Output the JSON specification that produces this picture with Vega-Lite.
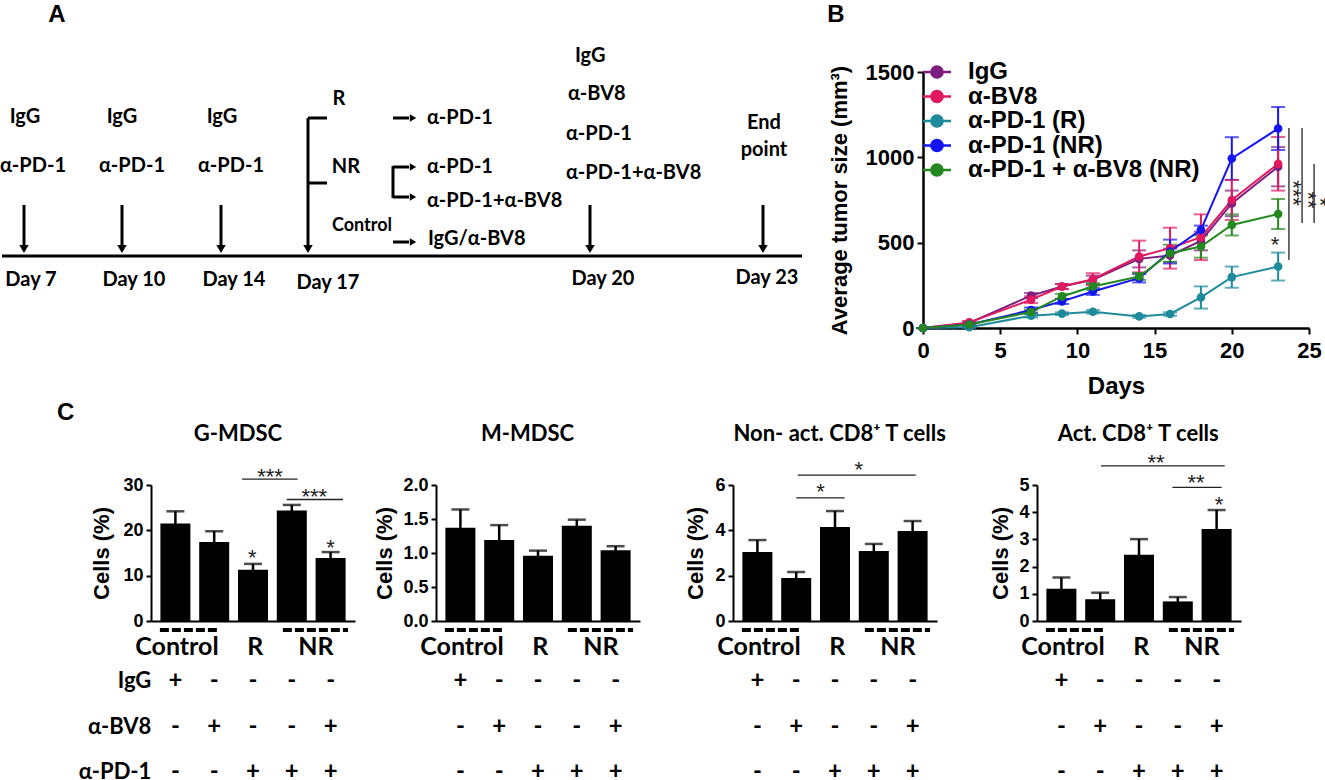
{
  "$schema": "https://vega.github.io/schema/vega-lite/v6.json",
  "padding": {"top": 3, "left": 0, "right": 0, "bottom": 0},
  "background": "white",
  "config": {
    "view": {"stroke": null},
    "axis": {"grid": false, "domainColor": "black", "tickColor": "black", "labelColor": "black", "titleColor": "black", "labelFont": "Liberation Sans", "titleFont": "Liberation Sans", "labelFontWeight": "bold", "titleFontWeight": "bold"},
    "text": {"color": "black", "font": "Lato", "fontWeight": "bold"}
  },
  "datasets": {
    "a_lines": [
      {"x1": 2, "x2": 802, "y1": 256, "y2": 256},
      {"x1": 24, "x2": 24, "y1": 205, "y2": 247},
      {"x1": 122, "x2": 122, "y1": 205, "y2": 247},
      {"x1": 221, "x2": 221, "y1": 205, "y2": 247},
      {"x1": 308, "x2": 308, "y1": 118, "y2": 247},
      {"x1": 590, "x2": 590, "y1": 205, "y2": 247},
      {"x1": 763, "x2": 763, "y1": 205, "y2": 247},
      {"x1": 308, "x2": 327, "y1": 118, "y2": 118},
      {"x1": 308, "x2": 327, "y1": 183, "y2": 183},
      {"x1": 393, "x2": 409, "y1": 118, "y2": 118},
      {"x1": 393, "x2": 409, "y1": 167, "y2": 167},
      {"x1": 393, "x2": 409, "y1": 197, "y2": 197},
      {"x1": 393, "x2": 393, "y1": 166, "y2": 198},
      {"x1": 393, "x2": 409, "y1": 242, "y2": 242}
    ],
    "a_heads_down": [
      {"x": 24, "y": 249}, {"x": 122, "y": 249}, {"x": 221, "y": 249},
      {"x": 308, "y": 249}, {"x": 590, "y": 249}, {"x": 763, "y": 249}
    ],
    "a_heads_right": [
      {"x": 413, "y": 118}, {"x": 413, "y": 167}, {"x": 413, "y": 197}, {"x": 413, "y": 242}
    ],
    "a_text_c": [
      {"t": "IgG", "x": 25, "y": 117}, {"t": "IgG", "x": 122, "y": 117}, {"t": "IgG", "x": 222, "y": 117},
      {"t": "α-PD-1", "x": 33, "y": 166}, {"t": "α-PD-1", "x": 132, "y": 166}, {"t": "α-PD-1", "x": 231, "y": 166},
      {"t": "Day 7", "x": 31, "y": 280}, {"t": "Day 10", "x": 134, "y": 280}, {"t": "Day 14", "x": 234, "y": 280},
      {"t": "Day 17", "x": 328, "y": 283}, {"t": "Day 20", "x": 603, "y": 279}, {"t": "Day 23", "x": 767, "y": 278},
      {"t": "R", "x": 339, "y": 99}, {"t": "NR", "x": 346, "y": 167},
      {"t": "End", "x": 764, "y": 123}, {"t": "point", "x": 764, "y": 150}
    ],
    "a_text_l": [
      {"t": "α-PD-1", "x": 427, "y": 118}, {"t": "α-PD-1", "x": 427, "y": 167},
      {"t": "α-PD-1+α-BV8", "x": 427, "y": 201}, {"t": "IgG/α-BV8", "x": 428, "y": 239},
      {"t": "IgG", "x": 575, "y": 56}, {"t": "α-BV8", "x": 568, "y": 94},
      {"t": "α-PD-1", "x": 566, "y": 134}, {"t": "α-PD-1+α-BV8", "x": 566, "y": 173}
    ],
    "a_text_small": [{"t": "Control", "x": 362, "y": 226}],
    "a_letters": [{"t": "A", "x": 57, "y": 15}, {"t": "B", "x": 836, "y": 15}],
    "tumor": [
      {"series": "IgG", "day": 0, "size": 0, "err": 0},
      {"series": "IgG", "day": 3, "size": 30, "err": 8},
      {"series": "IgG", "day": 7, "size": 190, "err": 15},
      {"series": "IgG", "day": 9, "size": 243, "err": 15},
      {"series": "IgG", "day": 11, "size": 282, "err": 25},
      {"series": "IgG", "day": 14, "size": 405, "err": 50},
      {"series": "IgG", "day": 16, "size": 425, "err": 40},
      {"series": "IgG", "day": 18, "size": 510, "err": 55},
      {"series": "IgG", "day": 20, "size": 730, "err": 75},
      {"series": "IgG", "day": 23, "size": 945, "err": 115},
      {"series": "α-BV8", "day": 0, "size": 0, "err": 0},
      {"series": "α-BV8", "day": 3, "size": 33, "err": 8},
      {"series": "α-BV8", "day": 7, "size": 166, "err": 20},
      {"series": "α-BV8", "day": 9, "size": 243, "err": 15},
      {"series": "α-BV8", "day": 11, "size": 286, "err": 35},
      {"series": "α-BV8", "day": 14, "size": 419, "err": 93},
      {"series": "α-BV8", "day": 16, "size": 468, "err": 120},
      {"series": "α-BV8", "day": 18, "size": 532, "err": 134},
      {"series": "α-BV8", "day": 20, "size": 750, "err": 117},
      {"series": "α-BV8", "day": 23, "size": 962, "err": 157},
      {"series": "α-PD-1 (R)", "day": 0, "size": 0, "err": 0},
      {"series": "α-PD-1 (R)", "day": 3, "size": 5, "err": 5},
      {"series": "α-PD-1 (R)", "day": 7, "size": 72, "err": 10},
      {"series": "α-PD-1 (R)", "day": 9, "size": 84, "err": 8},
      {"series": "α-PD-1 (R)", "day": 11, "size": 95, "err": 10},
      {"series": "α-PD-1 (R)", "day": 14, "size": 68, "err": 8},
      {"series": "α-PD-1 (R)", "day": 16, "size": 82, "err": 10},
      {"series": "α-PD-1 (R)", "day": 18, "size": 179, "err": 65},
      {"series": "α-PD-1 (R)", "day": 20, "size": 298, "err": 62},
      {"series": "α-PD-1 (R)", "day": 23, "size": 360, "err": 82},
      {"series": "α-PD-1 (NR)", "day": 0, "size": 0, "err": 0},
      {"series": "α-PD-1 (NR)", "day": 3, "size": 20, "err": 8},
      {"series": "α-PD-1 (NR)", "day": 7, "size": 105, "err": 15},
      {"series": "α-PD-1 (NR)", "day": 9, "size": 156, "err": 15},
      {"series": "α-PD-1 (NR)", "day": 11, "size": 214, "err": 20},
      {"series": "α-PD-1 (NR)", "day": 14, "size": 292, "err": 25},
      {"series": "α-PD-1 (NR)", "day": 16, "size": 448, "err": 70},
      {"series": "α-PD-1 (NR)", "day": 18, "size": 575, "err": 25},
      {"series": "α-PD-1 (NR)", "day": 20, "size": 993, "err": 125},
      {"series": "α-PD-1 (NR)", "day": 23, "size": 1169, "err": 126},
      {"series": "α-PD-1 + α-BV8 (NR)", "day": 0, "size": 0, "err": 0},
      {"series": "α-PD-1 + α-BV8 (NR)", "day": 3, "size": 20, "err": 8},
      {"series": "α-PD-1 + α-BV8 (NR)", "day": 7, "size": 94, "err": 12},
      {"series": "α-PD-1 + α-BV8 (NR)", "day": 9, "size": 185, "err": 15},
      {"series": "α-PD-1 + α-BV8 (NR)", "day": 11, "size": 243, "err": 20},
      {"series": "α-PD-1 + α-BV8 (NR)", "day": 14, "size": 302, "err": 20},
      {"series": "α-PD-1 + α-BV8 (NR)", "day": 16, "size": 438, "err": 50},
      {"series": "α-PD-1 + α-BV8 (NR)", "day": 18, "size": 477, "err": 65},
      {"series": "α-PD-1 + α-BV8 (NR)", "day": 20, "size": 604, "err": 62},
      {"series": "α-PD-1 + α-BV8 (NR)", "day": 23, "size": 668, "err": 88}
    ],
    "b_sig": [
      {"day": 23.7, "size": 398, "hi": 1172},
      {"day": 24.55, "size": 615, "hi": 1172},
      {"day": 25.33, "size": 615, "hi": 961}
    ],
    "b_star_rot": [
      {"day": 23.97, "size": 791, "t": "***"},
      {"day": 24.94, "size": 750, "t": "**"},
      {"day": 25.7, "size": 738, "t": "*"}
    ],
    "b_star": [{"day": 22.8, "size": 515, "t": "*"}],
    "c1": [
      {"pos": 1, "value": 21.5, "err": 2.7}, {"pos": 2, "value": 17.4, "err": 2.4},
      {"pos": 3, "value": 11.3, "err": 1.3}, {"pos": 4, "value": 24.4, "err": 1.2},
      {"pos": 5, "value": 13.9, "err": 1.3}
    ],
    "c2": [
      {"pos": 1, "value": 1.37, "err": 0.27}, {"pos": 2, "value": 1.19, "err": 0.22},
      {"pos": 3, "value": 0.96, "err": 0.075}, {"pos": 4, "value": 1.40, "err": 0.09},
      {"pos": 5, "value": 1.04, "err": 0.06}
    ],
    "c3": [
      {"pos": 1, "value": 3.04, "err": 0.53}, {"pos": 2, "value": 1.9, "err": 0.26},
      {"pos": 3, "value": 4.15, "err": 0.7}, {"pos": 4, "value": 3.09, "err": 0.31},
      {"pos": 5, "value": 3.97, "err": 0.44}
    ],
    "c4": [
      {"pos": 1, "value": 1.19, "err": 0.41}, {"pos": 2, "value": 0.80, "err": 0.24},
      {"pos": 3, "value": 2.44, "err": 0.57}, {"pos": 4, "value": 0.72, "err": 0.16},
      {"pos": 5, "value": 3.38, "err": 0.70}
    ],
    "c1_sig": [{"pos": 2.72, "x2": 4.15, "y": 31.3}, {"pos": 3.87, "x2": 5.32, "y": 26.8}],
    "c1_star": [
      {"pos": 3.44, "y": 32.9, "t": "***"}, {"pos": 4.58, "y": 28.5, "t": "***"},
      {"pos": 2.98, "y": 15.1, "t": "*"}, {"pos": 5.0, "y": 17.1, "t": "*"}
    ],
    "c3_sig": [{"pos": 2.0, "x2": 3.25, "y": 5.43}, {"pos": 2.04, "x2": 5.08, "y": 6.44}],
    "c3_star": [{"pos": 2.63, "y": 5.9, "t": "*"}, {"pos": 3.61, "y": 6.88, "t": "*"}],
    "c4_sig": [{"pos": 2.02, "x2": 5.21, "y": 5.70}, {"pos": 3.86, "x2": 5.13, "y": 4.91}],
    "c4_star": [
      {"pos": 3.44, "y": 5.98, "t": "**"}, {"pos": 4.47, "y": 5.27, "t": "**"}, {"pos": 5.06, "y": 4.45, "t": "*"}
    ],
    "groups": [{"t": "Control", "pos": 1.04}, {"t": "R", "pos": 3.06}, {"t": "NR", "pos": 4.62}],
    "dashes": [{"pos": 0.6, "x2": 2.07}, {"pos": 3.77, "x2": 5.45}],
    "table": [
      {"agent": "IgG", "pos": 1, "sign": "+"}, {"agent": "IgG", "pos": 2, "sign": "-"},
      {"agent": "IgG", "pos": 3, "sign": "-"}, {"agent": "IgG", "pos": 4, "sign": "-"},
      {"agent": "IgG", "pos": 5, "sign": "-"},
      {"agent": "α-BV8", "pos": 1, "sign": "-"}, {"agent": "α-BV8", "pos": 2, "sign": "+"},
      {"agent": "α-BV8", "pos": 3, "sign": "-"}, {"agent": "α-BV8", "pos": 4, "sign": "-"},
      {"agent": "α-BV8", "pos": 5, "sign": "+"},
      {"agent": "α-PD-1", "pos": 1, "sign": "-"}, {"agent": "α-PD-1", "pos": 2, "sign": "-"},
      {"agent": "α-PD-1", "pos": 3, "sign": "+"}, {"agent": "α-PD-1", "pos": 4, "sign": "+"},
      {"agent": "α-PD-1", "pos": 5, "sign": "+"}
    ],
    "agents": [{"agent": "IgG", "pos": 0.38}, {"agent": "α-BV8", "pos": 0.38}, {"agent": "α-PD-1", "pos": 0.38}],
    "empty": []
  },
  "spacing": 2,
  "bounds": "full",
  "vconcat": [
    {
      "spacing": 0,
      "bounds": "flush",
      "hconcat": [
        {
          "width": 923, "height": 256,
          "layer": [
            {"data": {"name": "a_lines"}, "mark": {"type": "rule", "strokeWidth": 3, "color": "black"},
             "encoding": {
               "x": {"field": "x1", "type": "quantitative", "scale": {"domain": [0, 923], "nice": false, "zero": false}, "axis": null},
               "x2": {"field": "x2"},
               "y": {"field": "y1", "type": "quantitative", "scale": {"domain": [72, 328], "nice": false, "zero": false, "reverse": true}, "axis": null},
               "y2": {"field": "y2"}}},
            {"data": {"name": "a_heads_down"}, "mark": {"type": "point", "shape": "triangle-down", "filled": true, "size": 90, "color": "black", "opacity": 1},
             "encoding": {
               "x": {"field": "x", "type": "quantitative", "scale": {"domain": [0, 923], "nice": false, "zero": false}, "axis": null},
               "y": {"field": "y", "type": "quantitative", "scale": {"domain": [72, 328], "nice": false, "zero": false, "reverse": true}, "axis": null}}},
            {"data": {"name": "a_heads_right"}, "mark": {"type": "point", "shape": "triangle-right", "filled": true, "size": 55, "color": "black", "opacity": 1},
             "encoding": {
               "x": {"field": "x", "type": "quantitative", "scale": {"domain": [0, 923], "nice": false, "zero": false}, "axis": null},
               "y": {"field": "y", "type": "quantitative", "scale": {"domain": [72, 328], "nice": false, "zero": false, "reverse": true}, "axis": null}}},
            {"data": {"name": "a_text_c"}, "mark": {"type": "text", "fontSize": 20, "align": "center", "baseline": "middle"},
             "encoding": {
               "x": {"field": "x", "type": "quantitative", "scale": {"domain": [0, 923], "nice": false, "zero": false}, "axis": null},
               "y": {"field": "y", "type": "quantitative", "scale": {"domain": [72, 328], "nice": false, "zero": false, "reverse": true}, "axis": null},
               "text": {"field": "t"}}},
            {"data": {"name": "a_text_l"}, "mark": {"type": "text", "fontSize": 20, "align": "left", "baseline": "middle"},
             "encoding": {
               "x": {"field": "x", "type": "quantitative", "scale": {"domain": [0, 923], "nice": false, "zero": false}, "axis": null},
               "y": {"field": "y", "type": "quantitative", "scale": {"domain": [72, 328], "nice": false, "zero": false, "reverse": true}, "axis": null},
               "text": {"field": "t"}}},
            {"data": {"name": "a_text_small"}, "mark": {"type": "text", "fontSize": 18, "align": "center", "baseline": "middle"},
             "encoding": {
               "x": {"field": "x", "type": "quantitative", "scale": {"domain": [0, 923], "nice": false, "zero": false}, "axis": null},
               "y": {"field": "y", "type": "quantitative", "scale": {"domain": [72, 328], "nice": false, "zero": false, "reverse": true}, "axis": null},
               "text": {"field": "t"}}},
            {"data": {"name": "a_letters"}, "mark": {"type": "text", "font": "Liberation Sans", "fontSize": 24, "align": "center", "baseline": "middle"},
             "encoding": {
               "x": {"field": "x", "type": "quantitative", "scale": {"domain": [0, 923], "nice": false, "zero": false}, "axis": null},
               "y": {"field": "y", "type": "quantitative", "scale": {"domain": [72, 328], "nice": false, "zero": false, "reverse": true}, "axis": null},
               "text": {"field": "t"}}}
          ]
        },
        {
          "width": 386, "height": 256,
          "encoding": {
            "x": {"field": "day", "type": "quantitative", "scale": {"domain": [0, 25], "nice": false},
                  "axis": {"values": [0, 5, 10, 15, 20, 25], "title": "Days", "labelFontSize": 22, "titleFontSize": 24, "tickSize": 6, "tickWidth": 2, "domainWidth": 2.5, "labelPadding": 6, "titlePadding": 13, "labelFlush": false, "labelOverlap": false}},
            "y": {"field": "size", "type": "quantitative", "scale": {"domain": [0, 1500], "nice": false},
                  "axis": {"values": [0, 500, 1000, 1500], "format": "d", "title": "Average tumor size (mm³)", "labelFontSize": 22, "titleFontSize": 22, "tickSize": 6, "tickWidth": 2, "domainWidth": 2.5, "labelPadding": 3, "titlePadding": 14, "labelOverlap": false}}
          },
          "layer": [
            {"data": {"name": "b_sig"}, "mark": {"type": "rule", "strokeWidth": 1.3, "color": "#222"},
             "encoding": {"y2": {"field": "hi"}}},
            {"data": {"name": "tumor"}, "mark": {"type": "errorbar", "thickness": 2, "ticks": {"size": 14, "thickness": 2}},
             "encoding": {
               "yError": {"field": "err"},
               "color": {"field": "series", "type": "nominal", "scale": {"domain": ["IgG", "α-BV8", "α-PD-1 (R)", "α-PD-1 (NR)", "α-PD-1 + α-BV8 (NR)"], "range": ["#7d1d80", "#e0195f", "#1f8a9c", "#1515f2", "#23891f"]},
                         "legend": {"orient": "none", "legendX": 925, "legendY": -12, "padding": 0, "title": null, "symbolType": "M-2,0H2M-0.8,0A0.8,0.8,0,1,1,0.8,0A0.8,0.8,0,1,1,-0.8,0", "symbolSize": 196, "symbolStrokeWidth": 2.5, "symbolOpacity": 1, "labelFont": "Liberation Sans", "labelFontSize": 24, "labelFontWeight": "bold", "labelColor": "black", "labelOffset": 19, "rowPadding": 0.5, "labelLimit": 400}}}},
            {"data": {"name": "tumor"}, "mark": {"type": "line", "strokeWidth": 2},
             "encoding": {
               "color": {"field": "series", "type": "nominal", "scale": {"domain": ["IgG", "α-BV8", "α-PD-1 (R)", "α-PD-1 (NR)", "α-PD-1 + α-BV8 (NR)"], "range": ["#7d1d80", "#e0195f", "#1f8a9c", "#1515f2", "#23891f"]},
                         "legend": {"orient": "none", "legendX": 925, "legendY": -12, "padding": 0, "title": null, "symbolType": "M-2,0H2M-0.8,0A0.8,0.8,0,1,1,0.8,0A0.8,0.8,0,1,1,-0.8,0", "symbolSize": 196, "symbolStrokeWidth": 2.5, "symbolOpacity": 1, "labelFont": "Liberation Sans", "labelFontSize": 24, "labelFontWeight": "bold", "labelColor": "black", "labelOffset": 19, "rowPadding": 0.5, "labelLimit": 400}}}},
            {"data": {"name": "tumor"}, "mark": {"type": "point", "filled": true, "size": 75, "opacity": 1},
             "encoding": {
               "color": {"field": "series", "type": "nominal", "scale": {"domain": ["IgG", "α-BV8", "α-PD-1 (R)", "α-PD-1 (NR)", "α-PD-1 + α-BV8 (NR)"], "range": ["#7d1d80", "#e0195f", "#1f8a9c", "#1515f2", "#23891f"]},
                         "legend": {"orient": "none", "legendX": 925, "legendY": -12, "padding": 0, "title": null, "symbolType": "M-2,0H2M-0.8,0A0.8,0.8,0,1,1,0.8,0A0.8,0.8,0,1,1,-0.8,0", "symbolSize": 196, "symbolStrokeWidth": 2.5, "symbolOpacity": 1, "labelFont": "Liberation Sans", "labelFontSize": 24, "labelFontWeight": "bold", "labelColor": "black", "labelOffset": 19, "rowPadding": 0.5, "labelLimit": 400}}}},
            {"data": {"name": "b_star_rot"}, "mark": {"type": "text", "font": "Liberation Sans", "fontWeight": "normal", "fontSize": 22, "angle": 90, "align": "center", "baseline": "middle", "color": "#222"},
             "encoding": {"text": {"field": "t"}}},
            {"data": {"name": "b_star"}, "mark": {"type": "text", "font": "Liberation Sans", "fontWeight": "normal", "fontSize": 22, "align": "center", "baseline": "middle", "dy": 5, "color": "#222"},
             "encoding": {"text": {"field": "t"}}}
          ]
        }
      ]
    },
    {
      "spacing": 0,
      "bounds": "flush",
      "hconcat": [
        {"width": 151, "height": 136, "data": {"name": "empty"}, "mark": "point"},
        {
          "width": 204, "height": 136,
          "encoding": {
            "x": {"field": "pos", "type": "quantitative", "scale": {"domain": [0.5, 5.5], "nice": false, "zero": false}, "axis": {"domain": true, "domainWidth": 2, "ticks": false, "labels": false, "title": null}}
          },
          "resolve": {"scale": {"y": "independent"}},
          "layer": [
            {"data": {"name": "c1"}, "mark": {"type": "bar", "size": 30, "color": "black"},
             "encoding": {
               "y": {"field": "value", "type": "quantitative", "scale": {"domain": [0, 30], "nice": false}, "axis": {"values": [0, 10, 20, 30], "title": "Cells (%)", "labelFontSize": 18, "titleFontSize": 22, "tickSize": 5, "tickWidth": 2, "domainWidth": 2, "labelPadding": 3, "titlePadding": 9, "labelOverlap": false}}}},
            {"data": {"name": "c1"}, "mark": {"type": "errorbar", "color": "black", "thickness": 2.5, "ticks": {"size": 18, "thickness": 2.5, "color": "black"}},
             "encoding": {
               "y": {"field": "value", "type": "quantitative", "scale": {"domain": [0, 30], "nice": false}, "axis": null},
               "yError": {"field": "err"}}},
            {"data": {"name": "c1_sig"}, "mark": {"type": "rule", "strokeWidth": 1.3, "color": "#222"},
             "encoding": {
               "x2": {"field": "x2"},
               "y": {"field": "y", "type": "quantitative", "scale": {"domain": [0, 30], "nice": false}, "axis": null}}},
            {"data": {"name": "c1_star"}, "mark": {"type": "text", "font": "Liberation Sans", "fontWeight": "normal", "fontSize": 22, "baseline": "middle", "dy": 5, "color": "#222"},
             "encoding": {
               "y": {"field": "y", "type": "quantitative", "scale": {"domain": [0, 30], "nice": false}, "axis": null},
               "text": {"field": "t"}}},
            {"data": {"name": "groups"}, "mark": {"type": "text", "fontSize": 25, "baseline": "middle", "dy": 26},
             "encoding": {
               "y": {"datum": 0, "type": "quantitative", "scale": {"domain": [0, 30], "nice": false}, "axis": null},
               "text": {"field": "t"}}},
            {"data": {"name": "dashes"}, "mark": {"type": "rule", "strokeWidth": 4, "strokeDash": [9, 3], "color": "black"},
             "encoding": {
               "x2": {"field": "x2"},
               "y": {"datum": -1.99, "type": "quantitative", "scale": {"domain": [0, 30], "nice": false}, "axis": null}}},
            {"data": {"name": "table"}, "mark": {"type": "text", "fontSize": 24, "baseline": "middle"},
             "encoding": {
               "y": {"field": "agent", "type": "nominal", "scale": {"type": "point", "domain": ["IgG", "α-BV8", "α-PD-1"], "range": [196, 287], "padding": 0}, "axis": null},
               "text": {"field": "sign"}}},
            {"data": {"name": "agents"}, "mark": {"type": "text", "fontSize": 22, "align": "right", "baseline": "middle"},
             "encoding": {
               "y": {"field": "agent", "type": "nominal", "scale": {"type": "point", "domain": ["IgG", "α-BV8", "α-PD-1"], "range": [196, 287], "padding": 0}, "axis": null},
               "text": {"field": "agent"}}},
            {"data": {"values": [{"t": "G-MDSC", "pos": 2.61}]}, "mark": {"type": "text", "fontSize": 22, "baseline": "middle"},
             "encoding": {
               "y": {"datum": 41.25, "type": "quantitative", "scale": {"domain": [0, 30], "nice": false}, "axis": null},
               "text": {"field": "t"}}},
            {"data": {"values": [{"t": "C", "pos": -1.83}]}, "mark": {"type": "text", "font": "Liberation Sans", "fontSize": 24, "baseline": "middle"},
             "encoding": {
               "y": {"datum": 45.9, "type": "quantitative", "scale": {"domain": [0, 30], "nice": false}, "axis": null},
               "text": {"field": "t"}}}
          ]
        },
        {"width": 81, "height": 136, "data": {"name": "empty"}, "mark": "point"},
        {
          "width": 204, "height": 136,
          "encoding": {
            "x": {"field": "pos", "type": "quantitative", "scale": {"domain": [0.5, 5.5], "nice": false, "zero": false}, "axis": {"domain": true, "domainWidth": 2, "ticks": false, "labels": false, "title": null}}
          },
          "resolve": {"scale": {"y": "independent"}},
          "layer": [
            {"data": {"name": "c2"}, "mark": {"type": "bar", "size": 30, "color": "black"},
             "encoding": {
               "y": {"field": "value", "type": "quantitative", "scale": {"domain": [0, 2], "nice": false}, "axis": {"values": [0, 0.5, 1, 1.5, 2], "format": ".1f", "title": "Cells (%)", "labelFontSize": 18, "titleFontSize": 22, "tickSize": 5, "tickWidth": 2, "domainWidth": 2, "labelPadding": 3, "titlePadding": 6, "labelOverlap": false}}}},
            {"data": {"name": "c2"}, "mark": {"type": "errorbar", "color": "black", "thickness": 2.5, "ticks": {"size": 18, "thickness": 2.5, "color": "black"}},
             "encoding": {
               "y": {"field": "value", "type": "quantitative", "scale": {"domain": [0, 2], "nice": false}, "axis": null},
               "yError": {"field": "err"}}},
            {"data": {"name": "groups"}, "mark": {"type": "text", "fontSize": 25, "baseline": "middle", "dy": 26},
             "encoding": {
               "y": {"datum": 0, "type": "quantitative", "scale": {"domain": [0, 2], "nice": false}, "axis": null},
               "text": {"field": "t"}}},
            {"data": {"name": "dashes"}, "mark": {"type": "rule", "strokeWidth": 4, "strokeDash": [9, 3], "color": "black"},
             "encoding": {
               "x2": {"field": "x2"},
               "y": {"datum": -0.132, "type": "quantitative", "scale": {"domain": [0, 2], "nice": false}, "axis": null}}},
            {"data": {"name": "table"}, "mark": {"type": "text", "fontSize": 24, "baseline": "middle"},
             "encoding": {
               "y": {"field": "agent", "type": "nominal", "scale": {"type": "point", "domain": ["IgG", "α-BV8", "α-PD-1"], "range": [196, 287], "padding": 0}, "axis": null},
               "text": {"field": "sign"}}},
            {"data": {"values": [{"t": "M-MDSC", "pos": 2.73}]}, "mark": {"type": "text", "fontSize": 22, "baseline": "middle"},
             "encoding": {
               "y": {"datum": 2.75, "type": "quantitative", "scale": {"domain": [0, 2], "nice": false}, "axis": null},
               "text": {"field": "t"}}}
          ]
        },
        {"width": 93, "height": 136, "data": {"name": "empty"}, "mark": "point"},
        {
          "width": 204, "height": 136,
          "encoding": {
            "x": {"field": "pos", "type": "quantitative", "scale": {"domain": [0.5, 5.5], "nice": false, "zero": false}, "axis": {"domain": true, "domainWidth": 2, "ticks": false, "labels": false, "title": null}}
          },
          "resolve": {"scale": {"y": "independent"}},
          "layer": [
            {"data": {"name": "c3"}, "mark": {"type": "bar", "size": 30, "color": "black"},
             "encoding": {
               "y": {"field": "value", "type": "quantitative", "scale": {"domain": [0, 6], "nice": false}, "axis": {"values": [0, 2, 4, 6], "title": "Cells (%)", "labelFontSize": 18, "titleFontSize": 22, "tickSize": 5, "tickWidth": 2, "domainWidth": 2, "labelPadding": 3, "titlePadding": 7, "labelOverlap": false}}}},
            {"data": {"name": "c3"}, "mark": {"type": "errorbar", "color": "black", "thickness": 2.5, "ticks": {"size": 18, "thickness": 2.5, "color": "black"}},
             "encoding": {
               "y": {"field": "value", "type": "quantitative", "scale": {"domain": [0, 6], "nice": false}, "axis": null},
               "yError": {"field": "err"}}},
            {"data": {"name": "c3_sig"}, "mark": {"type": "rule", "strokeWidth": 1.3, "color": "#222"},
             "encoding": {
               "x2": {"field": "x2"},
               "y": {"field": "y", "type": "quantitative", "scale": {"domain": [0, 6], "nice": false}, "axis": null}}},
            {"data": {"name": "c3_star"}, "mark": {"type": "text", "font": "Liberation Sans", "fontWeight": "normal", "fontSize": 22, "baseline": "middle", "dy": 5, "color": "#222"},
             "encoding": {
               "y": {"field": "y", "type": "quantitative", "scale": {"domain": [0, 6], "nice": false}, "axis": null},
               "text": {"field": "t"}}},
            {"data": {"name": "groups"}, "mark": {"type": "text", "fontSize": 25, "baseline": "middle", "dy": 26},
             "encoding": {
               "y": {"datum": 0, "type": "quantitative", "scale": {"domain": [0, 6], "nice": false}, "axis": null},
               "text": {"field": "t"}}},
            {"data": {"name": "dashes"}, "mark": {"type": "rule", "strokeWidth": 4, "strokeDash": [9, 3], "color": "black"},
             "encoding": {
               "x2": {"field": "x2"},
               "y": {"datum": -0.397, "type": "quantitative", "scale": {"domain": [0, 6], "nice": false}, "axis": null}}},
            {"data": {"name": "table"}, "mark": {"type": "text", "fontSize": 24, "baseline": "middle"},
             "encoding": {
               "y": {"field": "agent", "type": "nominal", "scale": {"type": "point", "domain": ["IgG", "α-BV8", "α-PD-1"], "range": [196, 287], "padding": 0}, "axis": null},
               "text": {"field": "sign"}}},
            {"data": {"values": [{"t": "Non- act. CD8⁺ T cells", "pos": 3.12}]}, "mark": {"type": "text", "fontSize": 22, "baseline": "middle"},
             "encoding": {
               "y": {"datum": 8.25, "type": "quantitative", "scale": {"domain": [0, 6], "nice": false}, "axis": null},
               "text": {"field": "t"}}}
          ]
        },
        {"width": 100, "height": 136, "data": {"name": "empty"}, "mark": "point"},
        {
          "width": 204, "height": 136,
          "encoding": {
            "x": {"field": "pos", "type": "quantitative", "scale": {"domain": [0.5, 5.5], "nice": false, "zero": false}, "axis": {"domain": true, "domainWidth": 2, "ticks": false, "labels": false, "title": null}}
          },
          "resolve": {"scale": {"y": "independent"}},
          "layer": [
            {"data": {"name": "c4"}, "mark": {"type": "bar", "size": 30, "color": "black"},
             "encoding": {
               "y": {"field": "value", "type": "quantitative", "scale": {"domain": [0, 5], "nice": false}, "axis": {"values": [0, 1, 2, 3, 4, 5], "title": "Cells (%)", "labelFontSize": 18, "titleFontSize": 22, "tickSize": 5, "tickWidth": 2, "domainWidth": 2, "labelPadding": 3, "titlePadding": 6, "labelOverlap": false}}}},
            {"data": {"name": "c4"}, "mark": {"type": "errorbar", "color": "black", "thickness": 2.5, "ticks": {"size": 18, "thickness": 2.5, "color": "black"}},
             "encoding": {
               "y": {"field": "value", "type": "quantitative", "scale": {"domain": [0, 5], "nice": false}, "axis": null},
               "yError": {"field": "err"}}},
            {"data": {"name": "c4_sig"}, "mark": {"type": "rule", "strokeWidth": 1.3, "color": "#222"},
             "encoding": {
               "x2": {"field": "x2"},
               "y": {"field": "y", "type": "quantitative", "scale": {"domain": [0, 5], "nice": false}, "axis": null}}},
            {"data": {"name": "c4_star"}, "mark": {"type": "text", "font": "Liberation Sans", "fontWeight": "normal", "fontSize": 22, "baseline": "middle", "dy": 5, "color": "#222"},
             "encoding": {
               "y": {"field": "y", "type": "quantitative", "scale": {"domain": [0, 5], "nice": false}, "axis": null},
               "text": {"field": "t"}}},
            {"data": {"name": "groups"}, "mark": {"type": "text", "fontSize": 25, "baseline": "middle", "dy": 26},
             "encoding": {
               "y": {"datum": 0, "type": "quantitative", "scale": {"domain": [0, 5], "nice": false}, "axis": null},
               "text": {"field": "t"}}},
            {"data": {"name": "dashes"}, "mark": {"type": "rule", "strokeWidth": 4, "strokeDash": [9, 3], "color": "black"},
             "encoding": {
               "x2": {"field": "x2"},
               "y": {"datum": -0.331, "type": "quantitative", "scale": {"domain": [0, 5], "nice": false}, "axis": null}}},
            {"data": {"name": "table"}, "mark": {"type": "text", "fontSize": 24, "baseline": "middle"},
             "encoding": {
               "y": {"field": "agent", "type": "nominal", "scale": {"type": "point", "domain": ["IgG", "α-BV8", "α-PD-1"], "range": [196, 287], "padding": 0}, "axis": null},
               "text": {"field": "sign"}}},
            {"data": {"values": [{"t": "Act. CD8⁺ T cells", "pos": 2.98}]}, "mark": {"type": "text", "fontSize": 22, "baseline": "middle"},
             "encoding": {
               "y": {"datum": 6.875, "type": "quantitative", "scale": {"domain": [0, 5], "nice": false}, "axis": null},
               "text": {"field": "t"}}}
          ]
        }
      ]
    }
  ]
}
